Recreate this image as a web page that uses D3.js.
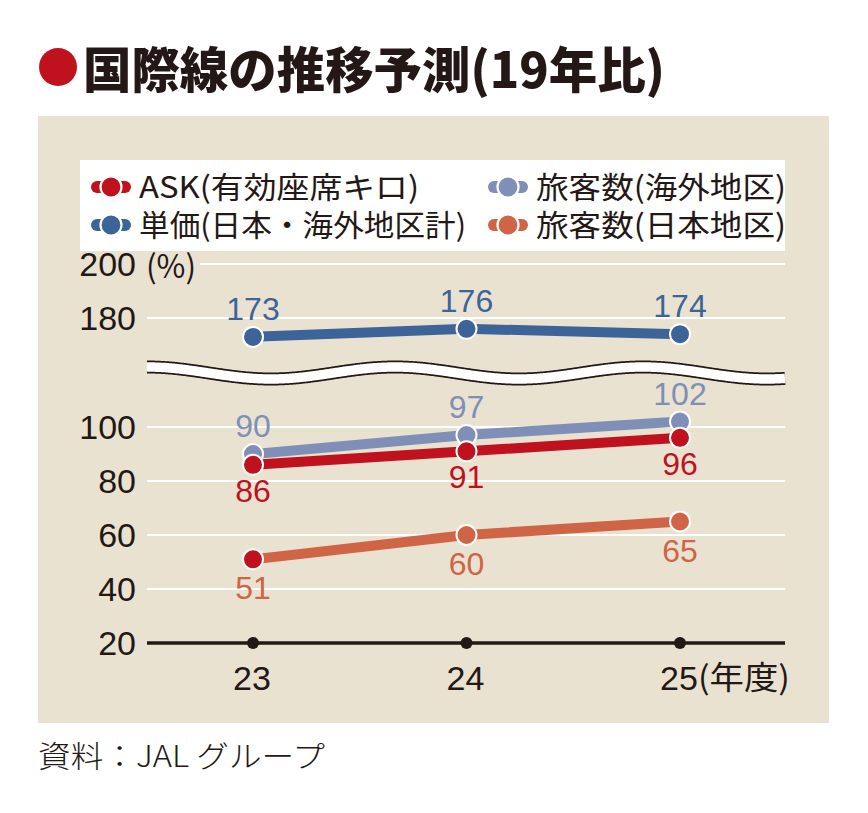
<!DOCTYPE html>
<html>
<head>
<meta charset="utf-8">
<script src="https://cdn.jsdelivr.net/npm/d3@7"></script>
<style>
  html, body { margin: 0; padding: 0; background: #ffffff; }
  svg { display: block; }
</style>
</head>
<body>
<div id="chart"></div>
<script>
// ---------- data ----------
const years = ["23", "24", "25"];
const xUnit = "(年度)";
const seriesNames = ["ASK(有効座席キロ)", "旅客数(海外地区)", "単価(日本・海外地区計)", "旅客数(日本地区)"];
const seriesColors = ["#c0111f", "#7f8fb8", "#3d6499", "#d06447"];
const askValues = [86, 91, 96];
const paxOverseasValues = [90, 97, 102];
const unitPriceValues = [173, 176, 174];
const paxJapanValues = [51, 60, 65];
const paxJapanMarkerColors = ["#c0111f", "#d06447", "#d06447"];
const lowTicks = [20, 40, 60, 80, 100];
const highTicks = [180, 200];

// ---------- layout ----------
const W = 868, H = 813;
const svg = d3.select("#chart").append("svg").attr("width", W).attr("height", H);
const CJK = "'Noto Sans CJK JP', 'Noto Sans', sans-serif";
const NUM = "'Liberation Sans', Arial, sans-serif";
const ink = "#231815";

// title
svg.append("circle").attr("cx", 58).attr("cy", 67).attr("r", 19).attr("fill", "#c0111f");
svg.append("text").attr("x", 83).attr("y", 88)
  .attr("font-family", CJK).attr("font-weight", 900).attr("font-size", 49)
  .attr("fill", ink).attr("textLength", 582).attr("lengthAdjust", "spacingAndGlyphs")
  .text("国際線の推移予測(19年比)");

// panel
svg.append("rect").attr("x", 38).attr("y", 116).attr("width", 791).attr("height", 607).attr("fill", "#e9e2d1");

// legend box
svg.append("rect").attr("x", 80).attr("y", 160).attr("width", 705).attr("height", 91).attr("fill", "#ffffff");

// scales
const x = d3.scalePoint().domain(years).range([253, 680]);
const yLow = d3.scaleLinear().domain([20, 100]).range([643, 427]);
const yHigh = d3.scaleLinear().domain([180, 200]).range([318, 264]);

// grid lines
const gridX0 = 147, gridX1 = 785;
svg.append("g").selectAll("line").data(lowTicks.filter(d => d !== 20)).join("line")
  .attr("x1", gridX0).attr("x2", gridX1).attr("y1", d => yLow(d)).attr("y2", d => yLow(d))
  .attr("stroke", "#ffffff").attr("stroke-width", 2.2);
svg.append("g").selectAll("line").data(highTicks).join("line")
  .attr("x1", d => d === 200 ? 200 : gridX0).attr("x2", gridX1).attr("y1", d => yHigh(d)).attr("y2", d => yHigh(d))
  .attr("stroke", "#ffffff").attr("stroke-width", 2.2);

// y tick labels
const tickG = svg.append("g").attr("font-family", NUM).attr("font-size", 34).attr("fill", ink).attr("text-anchor", "end");
tickG.selectAll("text.low").data(lowTicks).join("text").attr("class", "low")
  .attr("x", 136).attr("y", d => yLow(d) + 12).text(d => d);
tickG.selectAll("text.high").data(highTicks).join("text").attr("class", "high")
  .attr("x", 136).attr("y", d => yHigh(d) + 12).text(d => d);
svg.append("text").attr("x", 146).attr("y", yHigh(200) + 14).attr("font-family", CJK).attr("font-size", 32)
  .attr("fill", ink).attr("textLength", 50).attr("lengthAdjust", "spacingAndGlyphs").text("(%)");

// axis break (wavy band)
const wave = d3.range(147, 786, 2).map(px => [px, 373 - 6 * Math.cos(2 * Math.PI * (px - 147) / 248)]);
const waveLine = d3.line().curve(d3.curveBasis);
svg.append("path").attr("d", waveLine(wave)).attr("fill", "none").attr("stroke", ink).attr("stroke-width", 13);
svg.append("path").attr("d", waveLine(wave)).attr("fill", "none").attr("stroke", "#ffffff").attr("stroke-width", 9.5);

// base axis
svg.append("line").attr("x1", gridX0).attr("x2", gridX1).attr("y1", yLow(20)).attr("y2", yLow(20))
  .attr("stroke", ink).attr("stroke-width", 3.5);
svg.append("g").selectAll("circle").data(years).join("circle")
  .attr("cx", d => x(d)).attr("cy", yLow(20)).attr("r", 6).attr("fill", ink);
svg.append("g").attr("font-family", NUM).attr("font-size", 34).attr("fill", ink)
  .selectAll("text").data(years).join("text")
  .attr("x", d => x(d) - 20).attr("y", 690).text(d => d);
svg.append("text").attr("x", x("25") + 18).attr("y", 689).attr("font-family", CJK).attr("font-size", 32)
  .attr("fill", ink).attr("textLength", 92).attr("lengthAdjust", "spacingAndGlyphs").text(xUnit);

// series
const series = [
  { vals: paxOverseasValues, color: seriesColors[1], scale: yLow, dy: -17, marks: null },
  { vals: askValues, color: seriesColors[0], scale: yLow, dy: 37, marks: null },
  { vals: paxJapanValues, color: seriesColors[3], scale: yLow, dy: 40, marks: paxJapanMarkerColors },
  { vals: unitPriceValues, color: seriesColors[2], scale: yHigh, dy: -17, marks: null }
];
const line = d3.line();
series.forEach(s => {
  const pts = s.vals.map((v, i) => [x(years[i]), s.scale(v)]);
  svg.append("path").attr("d", line(pts)).attr("fill", "none").attr("stroke", s.color).attr("stroke-width", 10);
});
series.forEach(s => {
  const g = svg.append("g");
  g.selectAll("circle").data(s.vals).join("circle")
    .attr("cx", (d, i) => x(years[i])).attr("cy", d => s.scale(d)).attr("r", 10)
    .attr("fill", (d, i) => s.marks ? s.marks[i] : s.color).attr("stroke", "#ffffff").attr("stroke-width", 2);
  g.selectAll("text").data(s.vals).join("text")
    .attr("x", (d, i) => x(years[i])).attr("y", d => s.scale(d) + s.dy)
    .attr("text-anchor", "middle").attr("font-family", NUM).attr("font-size", 32)
    .attr("fill", s.color).text(d => d);
});

// legend
const legendItems = [
  { name: seriesNames[0], color: seriesColors[0], x: 111, y: 187, len: 280 },
  { name: seriesNames[1], color: seriesColors[1], x: 508, y: 187, len: 250 },
  { name: seriesNames[2], color: seriesColors[2], x: 111, y: 225, len: 327 },
  { name: seriesNames[3], color: seriesColors[3], x: 508, y: 225, len: 250 }
];
const lg = svg.append("g");
legendItems.forEach(it => {
  lg.append("line").attr("x1", it.x - 14).attr("x2", it.x + 14).attr("y1", it.y).attr("y2", it.y)
    .attr("stroke", it.color).attr("stroke-width", 12).attr("stroke-linecap", "round");
  lg.append("circle").attr("cx", it.x).attr("cy", it.y).attr("r", 10.5).attr("fill", it.color)
    .attr("stroke", "#ffffff").attr("stroke-width", 2.2);
  lg.append("text").attr("x", it.x + 28).attr("y", it.y + 11).attr("font-family", CJK).attr("font-size", 30)
    .attr("fill", ink).attr("textLength", it.len).attr("lengthAdjust", "spacingAndGlyphs").text(it.name);
});

// source
svg.append("text").attr("x", 38).attr("y", 767).attr("font-family", CJK).attr("font-size", 30)
  .attr("font-weight", 300).attr("fill", ink).attr("textLength", 287).attr("lengthAdjust", "spacingAndGlyphs")
  .text("資料：JAL グループ");
</script>
</body>
</html>
